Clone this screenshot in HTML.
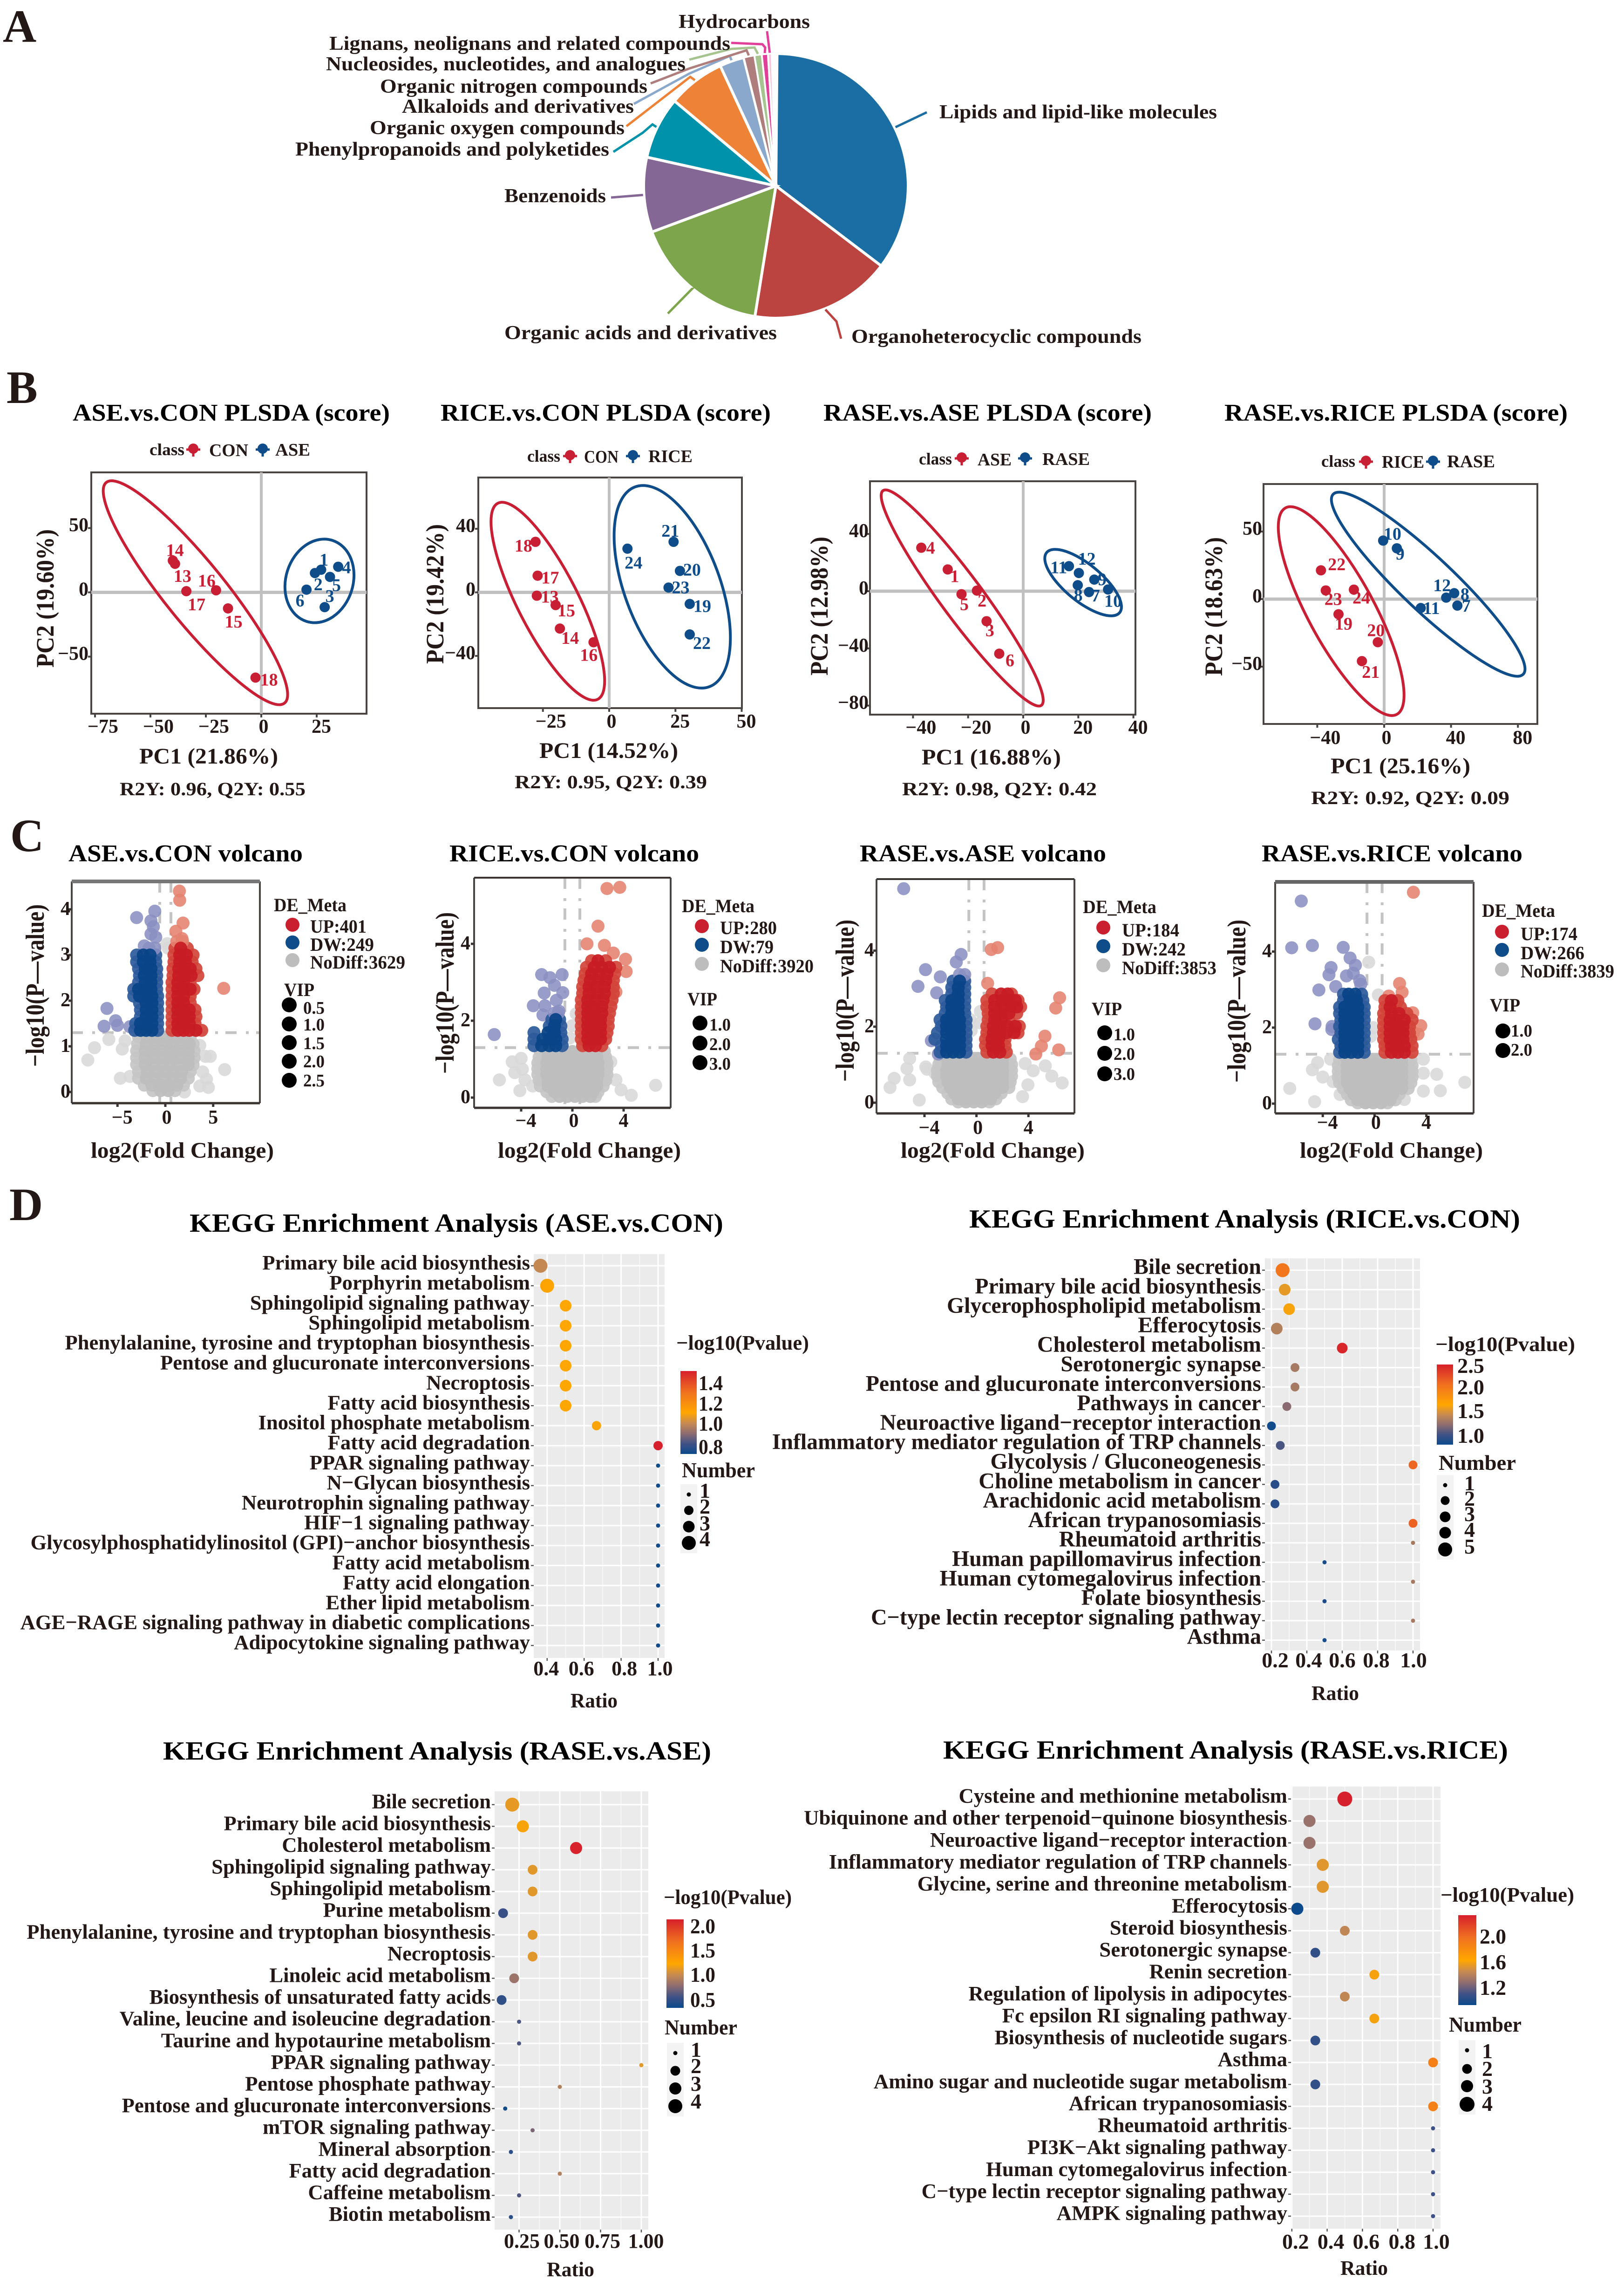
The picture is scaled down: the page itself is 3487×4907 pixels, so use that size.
<!DOCTYPE html>
<html lang="en">
<head>
<meta charset="utf-8">
<title>Metabolomics figure: classification, PLS-DA, volcano and KEGG enrichment</title>
<style>
html,body{margin:0;padding:0;background:#fff}
svg{display:block}
text{font-family:"Liberation Serif","Times New Roman",serif;font-weight:700;fill:#231815}
</style>
</head>
<body>
<svg id="figure" xmlns="http://www.w3.org/2000/svg" width="3487" height="4907" viewBox="0 0 3487 4907">
<defs>
<linearGradient id="cbar" x1="0" y1="1" x2="0" y2="0">
<stop offset="0" stop-color="#0c4a8b"/><stop offset="0.12" stop-color="#3d5186"/><stop offset="0.25" stop-color="#8f6d70"/><stop offset="0.37" stop-color="#c68a52"/><stop offset="0.5" stop-color="#ffa700"/><stop offset="0.75" stop-color="#f07020"/><stop offset="1" stop-color="#d6202b"/>
</linearGradient>
</defs>
</svg>
<script>
/* ---------- panel A data ---------- */
const pieLabels=["Lipids and lipid-like molecules","Organoheterocyclic compounds","Organic acids and derivatives","Benzenoids","Phenylpropanoids and polyketides","Organic oxygen compounds","Alkaloids and derivatives","Organic nitrogen compounds","Nucleosides, nucleotides, and analogues","Lignans, neolignans and related compounds","Hydrocarbons"];
const pieValues=[35.2,17.2,16.8,9.15,7.6,7,3,1.3,0.9,0.75,0.45];

/* ---------- panel B data: sample id, PC1, PC2 ---------- */
const s1RedIds=[14,13,17,16,15,18];
const s1RedPc1=[-39.9,-38.9,-33.8,-20.4,-15,-2.6];
const s1RedPc2=[24.7,22.2,0.9,1.6,-12.5,-66.3];
const s1BlueIds=[1,2,4,5,6,3];
const s1BluePc1=[27,24.2,34.7,31,20.4,28.6];
const s1BluePc2=[17.6,15,19.9,12,2.1,-11.5];
const s2RedIds=[18,17,13,15,14,16];
const s2RedPc1=[-27.8,-27,-27.3,-20.2,-18.6,-5.9];
const s2RedPc2=[31.8,10.5,-2.1,-8,-22.8,-31.4];
const s2BlueIds=[24,21,20,23,19,22];
const s2BluePc1=[6.9,24.3,26.7,22.4,30.4,30.4];
const s2BluePc2=[27.5,31.8,13.5,3,-7.3,-26.5];
const s3RedIds=[4,1,2,5,3,6];
const s3RedPc1=[-37,-27.4,-16.8,-22.4,-13.3,-8.7];
const s3RedPc2=[30.4,15.2,0.4,-2.1,-21,-43.7];
const s3BlueIds=[11,12,9,8,7,10];
const s3BluePc1=[16.6,20.2,25.8,19.8,23.9,30.8];
const s3BluePc2=[17.5,12.7,8.1,4.2,-0.6,1.2];
const s4RedIds=[22,23,24,19,20,21];
const s4RedPc1=[-37.8,-34.9,-18.1,-27.3,-3.8,-13.3];
const s4RedPc2=[21.3,6.4,7,-11.2,-31.9,-45.9];
const s4BlueIds=[10,9,12,8,7,11];
const s4BluePc1=[-0.6,7.6,37.1,41.9,43.8,21.9];
const s4BluePc2=[43.3,37.6,1.1,4.4,-4.8,-6.6];
/* confidence ellipses: tip1 PC1, tip1 PC2, tip2 PC1, tip2 PC2, minor/major ratio */
const s1Ellipses=[[-69.9,85.5,10.5,-86.1,0.214],[32.1,40.4,20.4,-22.6,0.79]];
const s2Ellipses=[[-42,56.1,-4.3,-67.3,0.276],[9.8,66.4,37.8,-59.4,0.448]];
const s3Ellipses=[[-50.9,70.3,6.6,-79.8,0.158],[8.5,27,35,-15,0.39]];
const s4Ellipses=[[-59,67.5,7.6,-85.3,0.283],[-30.5,77.6,83.2,-55.6,0.203]];

/* ---------- panel C data: each row = [-log10(P), log2FC, log2FC, ...] ---------- */
const v1Up=[[4.4,1.47],[4.2,1.5],[3.7,1.85],[2.27,6.1],[3.52,1.1],[3.36,1.74],[1.35,.7,1.3,1.9,2.5,3.2,3.8],[1.5,.7,1.3,1.9,2.5,3.1],[1.65,.7,1.3,1.9,2.5,3.2],[1.8,.7,1.3,1.9,2.5,3.1],[1.95,.7,1.3,1.9,2.6],[2.1,.7,1.3,1.9,2.6],[2.25,.7,1.3,1.9,2.6,3],[2.4,.7,1.3,1.9,2.6],[2.55,.8,1.4,2,2.7,3.4],[2.7,.8,1.4,2,2.6,3.2],[2.85,.9,1.5,2.1,2.8],[3,.9,1.5,2.2,2.9],[3.15,1,1.6,2.3],[3.3,1.2,1.8]];
const v1Down=[[3.96,-1.1],[3.82,-3],[3.75,-1.5],[3.62,-1.25],[3.46,-1.5],[3.39,-1],[3.2,-2.2],[1.83,-6.1],[1.56,-5.2],[1.44,-6.4],[1.46,-5],[1.43,-3.7],[1.35,-.8,-1.4,-2,-2.6,-3.2],[1.5,-.8,-1.4,-2,-2.6,-3.1],[1.65,-.8,-1.4,-2,-2.6],[1.8,-.8,-1.4,-2,-2.6],[1.95,-.8,-1.4,-2,-2.7],[2.1,-.8,-1.4,-2,-2.7,-3.3],[2.25,-.9,-1.5,-2.1,-2.8,-3.3],[2.4,-.9,-1.5,-2.1,-2.8],[2.55,-.9,-1.5,-2.2,-2.7],[2.7,-.9,-1.5,-2.1,-2.8],[2.85,-1,-1.6,-2.3,-3],[3,-1,-1.6,-2.3,-3],[3.15,-1.1,-1.7]];
const v1None=[[1.15,-5.9],[1.12,-4.2],[.97,-7.4],[.7,-8.1],[.94,-4.5],[.3,-4.7],[.34,-3.7],[1.02,3.6],[.78,4.7],[.78,4.2],[.49,6.2],[.44,3.9],[.28,4.3],[.13,3.6],[.1,4.5],[0,2],[3.25,.2],[3.15,.3],[1.2,-2.8,-1.9,-1,-.1,.8,1.7,2.6],[1.05,-2.9,-2,-1.1,-.2,.7,1.6,2.5,2.9],[.9,-3,-2.1,-1.2,-.3,.6,1.5,2.4,3],[.75,-3,-2.1,-1.2,-.3,.6,1.5,2.4,3],[.6,-3,-2.1,-1.2,-.3,.6,1.5,2.4,2.9],[.45,-2.8,-1.9,-1,-.1,.8,1.7,2.6],[.3,-2.8,-2,-1.1,-.2,.7,1.6,2.4],[.15,-2.2,-1.4,-.5,.4,1.2,1.9],[.03,-1.3,-.5,.3,1]];
const v2Up=[[5.44,2.7],[5.47,3.7],[4.46,2],[4,1.14],[3.96,2.5],[3.76,3.2],[3.6,4.15],[3.28,4.2],[2.75,3.4],[1.35,.8,1.3,1.8,2.3],[1.52,.7,1.2,1.7,2.2,2.6],[1.69,.7,1.2,1.7,2.2,2.7],[1.86,.7,1.2,1.7,2.2,2.8],[2.03,.7,1.2,1.7,2.2,2.8],[2.2,.7,1.2,1.7,2.3,2.9],[2.37,.7,1.2,1.7,2.3,3],[2.54,.7,1.2,1.8,2.4,3.1],[2.71,.8,1.3,1.9,2.5,3.2],[2.88,.8,1.3,1.9,2.5,3.2],[3.05,.9,1.4,2,2.6,3.2],[3.22,1,1.5,2.1,2.7,3.3],[3.39,1.1,1.7,2.3,2.9,3.4],[3.56,1.5,2,2.6]];
const v2Down=[[1.64,-6.1],[3.2,-2.4],[3.2,-.8],[3.12,-1.75],[2.92,-1.4],[2.72,-2.2],[2.73,-.75],[2.53,-1.25],[2.39,-3.05],[2.39,-2.15],[2.15,-2.3],[2.25,-1.05],[1.35,-.8,-1.3,-1.8,-2.4,-3],[1.52,-.8,-1.3,-1.8,-2.3,-3],[1.69,-.9,-1.4,-1.9,-3],[1.86,-.9,-1.4,-1.8],[2.03,-1,-1.3,-1.6],[2.2,-1.1,-1.4]];
const v2None=[[.93,-4.7],[1.02,-4],[.74,-3.9],[.65,-4.5],[.46,-5.7],[.46,-3.7],[.3,-3.1],[.18,-4.1],[.93,3],[.46,3.4],[.46,2.6],[.2,3.8],[.06,4.6],[.32,6.5],[2.18,.3],[1.87,0],[1.55,-.2],[1.2,-2.5,-1.9,-1.25,-.6,0,.6,1.25,1.9,2.5],[1.05,-2.6,-1.9,-1.25,-.6,0,.6,1.25,1.9,2.6],[.9,-2.7,-2,-1.3,-.6,0,.6,1.3,2,2.7],[.75,-2.7,-2,-1.3,-.6,0,.6,1.3,2,2.7],[.6,-2.7,-2,-1.3,-.6,0,.6,1.3,2,2.7],[.45,-2.6,-1.9,-1.25,-.6,0,.6,1.25,1.9,2.6],[.3,-2.5,-1.9,-1.25,-.6,0,.6,1.25,1.9,2.4],[.15,-2,-1.4,-.8,-.2,.4,1,1.6,2],[.03,-1.6,-1,-.4,.2,.8,1.4,1.8]];
const v3Up=[[4.08,1.63],[4.03,1.14],[3.14,.86],[2.76,6.4],[2.49,6.1],[1.75,5.27],[1.49,5],[1.39,6.33],[1.28,4.57],[1.33,.8,1.3,1.8,2.3],[1.5,.7,1.2,1.7,2.2],[1.67,.7,1.2,1.7,2.2],[1.84,.8,1.3,1.8,2.3,2.9,3.2],[2.01,.8,1.3,1.8,2.4,3,3.3],[2.18,.9,1.4,1.9,2.5],[2.35,.9,1.4,1.9,2.5,3.1],[2.52,.8,1.4,2,2.6,3.1,3.4],[2.69,.8,1.4,2,2.5,3,3.2],[2.86,1.2,1.9,2.4,2.7]];
const v3Down=[[5.63,-5.6],[3.9,-1.18],[3.7,-1.55],[3.5,-3.92],[3.31,-2.78],[3.06,-4.5],[2.89,-3.06],[1.63,-3.47],[1.28,-2.94],[1.33,-.8,-1.3,-1.8,-2.3,-2.8],[1.5,-.8,-1.3,-1.8,-2.3,-2.7],[1.67,-.8,-1.3,-1.8,-2.3,-3.2],[1.84,-.8,-1.3,-1.8,-2.3,-3],[2.01,-.8,-1.3,-1.8,-2.3,-2.7],[2.18,-.8,-1.3,-1.8,-2.3,-2.8],[2.35,-.9,-1.4,-1.9,-2.4],[2.52,-.9,-1.4,-1.9,-2.3],[2.69,-.9,-1.4,-1.9,-2.4],[2.86,-.9,-1.4,-1.9],[3.03,-.9,-1.4,-1.9],[3.2,-.9,-1.3,-1.8],[3.37,-.9,-1.3]];
const v3None=[[1.16,-5.14],[.9,-5.35],[.64,-6.33],[.6,-5.14],[.4,-6.65],[.07,-4.4],[.94,-3.9],[.88,-3.8],[1.03,3.75],[.84,4.37],[.97,5.3],[.7,5.8],[.52,6.6],[.47,3.96],[.16,3.55],[.78,-3.2],[2.19,-.5],[1.9,-.4],[2.4,.3],[2.1,.3],[1.15,-2.8,-2.2,-1.6,-1,-.4,.2,.8,1.4,2,2.6],[1,-2.9,-2.2,-1.6,-1,-.4,.2,.8,1.4,2,2.7],[.85,-3,-2.3,-1.6,-1,-.4,.2,.8,1.4,2,2.7],[.7,-3,-2.3,-1.6,-1,-.4,.2,.8,1.4,2,2.7],[.55,-2.9,-2.2,-1.6,-1,-.4,.2,.8,1.4,2,2.6],[.4,-2.6,-2,-1.5,-1,-.4,.2,.8,1.4,2,2.5],[.25,-2.2,-1.7,-1.2,-.7,-.2,.3,.8,1.4,1.9],[.1,-1.9,-1.4,-.9,-.4,.1,.6,1.1,1.5],[.02,-1.4,-.8,-.2,.4,1]];
const v4Up=[[5.56,3],[3.16,1.93],[2.93,2.13],[2.83,1.1],[2.39,2.95],[2.05,3.57],[1.83,3.36],[1.86,3],[2.64,1.7],[1.35,.8,1.3,1.8,2.3,2.9],[1.52,.8,1.3,1.8,2.3,2.9],[1.69,.7,1.2,1.7,2.2,2.8],[1.86,.7,1.2,1.7,2.2,2.7],[2.03,.7,1.2,1.7,2.2,2.7],[2.2,.7,1.2,1.7,2.3,2.9],[2.37,.7,1.3,1.9,2.5],[2.54,.8,1.2,2],[2.71,.8,1.3,1.8]];
const v4Down=[[5.33,-5.66],[4.1,-6.4],[4.16,-4.8],[4.11,-2.42],[3.83,-1.89],[3.64,-1.48],[3.58,-3.36],[3.39,-3.52],[3.43,-1.64],[3.36,-2.17],[3.24,-1.15],[3.14,-1.07],[2.99,-4.3],[3.08,-3],[2.1,-4.6],[2.03,-3.28],[1.95,-3.3],[1.35,-.8,-1.3,-1.8,-2.3,-2.7],[1.52,-.8,-1.3,-1.8,-2.3,-2.6],[1.69,-.8,-1.3,-1.8,-2.3,-2.8],[1.86,-.8,-1.3,-1.8,-2.3,-2.6],[2.03,-.8,-1.3,-1.8,-2.3,-2.7],[2.2,-.8,-1.3,-1.8,-2.3,-2.6],[2.37,-.8,-1.3,-1.8,-2.3,-2.7],[2.54,-.8,-1.3,-1.8,-2.3,-2.7],[2.71,-.9,-1.4,-1.9,-2.4],[2.88,-1,-1.5,-2,-2.4]];
const v4None=[[1.17,-3.4],[1.08,-4.4],[.89,-4.8],[.7,-4],[.58,-3.2],[.4,-6.55],[.05,-4.63],[1.17,3.77],[.8,3.77],[.33,3.77],[.77,4.8],[.34,5.08],[.56,6.97],[3.72,-.45],[2.86,.29],[2,-.1],[1.77,-.3],[.24,-2.66],[.11,2.3],[1.15,-2.7,-2.1,-1.5,-.9,-.3,.3,.9,1.5,2.1,2.8],[1,-2.8,-2.1,-1.5,-.9,-.3,.3,.9,1.5,2.1,2.9],[.85,-2.8,-2.1,-1.5,-.9,-.3,.3,.9,1.5,2.1,2.9],[.7,-2.8,-2.1,-1.5,-.9,-.3,.3,.9,1.5,2.1,2.9],[.55,-2.7,-2.1,-1.5,-.9,-.3,.3,.9,1.5,2.1,2.8],[.4,-2.4,-1.9,-1.4,-.9,-.3,.3,.9,1.5,2.1,2.6],[.25,-2.1,-1.6,-1.1,-.6,-.1,.4,.9,1.4,1.9],[.1,-1.8,-1.3,-.8,-.3,.2,.7,1.2,1.6],[.02,-1.3,-.7,-.1,.5,1]];

/* ---------- panel D data ---------- */
const k1Labels=["Primary bile acid biosynthesis","Porphyrin metabolism","Sphingolipid signaling pathway","Sphingolipid metabolism","Phenylalanine, tyrosine and tryptophan biosynthesis","Pentose and glucuronate interconversions","Necroptosis","Fatty acid biosynthesis","Inositol phosphate metabolism","Fatty acid degradation","PPAR signaling pathway","N\u2212Glycan biosynthesis","Neurotrophin signaling pathway","HIF\u22121 signaling pathway","Glycosylphosphatidylinositol (GPI)\u2212anchor biosynthesis","Fatty acid metabolism","Fatty acid elongation","Ether lipid metabolism","AGE\u2212RAGE signaling pathway in diabetic complications","Adipocytokine signaling pathway"];
const k1Ratio=[.364,.4,.5,.5,.5,.5,.5,.5,.667,1,1,1,1,1,1,1,1,1,1,1];
const k1Number=[4,4,3,3,3,3,3,3,2,2,1,1,1,1,1,1,1,1,1,1];
const k1Pvalue=[1.03,1.14,1.13,1.13,1.13,1.13,1.13,1.13,1.12,1.5,.77,.77,.77,.77,.77,.77,.77,.77,.77,.77];
const k1Ticks=[.4,.6,.8,1];
const k1TickLabels=["0.4","0.6","0.8","1.0"];
const k1ColorTicks=["1.4","1.2","1.0","0.8"];
const k1NumberKeys=[1,2,3,4];

const k2Labels=["Bile secretion","Primary bile acid biosynthesis","Glycerophospholipid metabolism","Efferocytosis","Cholesterol metabolism","Serotonergic synapse","Pentose and glucuronate interconversions","Pathways in cancer","Neuroactive ligand\u2212receptor interaction","Inflammatory mediator regulation of TRP channels","Glycolysis / Gluconeogenesis","Choline metabolism in cancer","Arachidonic acid metabolism","African trypanosomiasis","Rheumatoid arthritis","Human papillomavirus infection","Human cytomegalovirus infection","Folate biosynthesis","C\u2212type lectin receptor signaling pathway","Asthma"];
const k2Ratio=[.263,.275,.3,.23,.6,.333,.333,.287,.2,.25,1,.22,.22,1,1,.5,1,.5,1,.5];
const k2Number=[5,4,4,4,3,2,2,2,2,2,2,2,2,2,1,1,1,1,1,1];
const k2Pvalue=[2.07,1.6,1.67,1.41,2.52,1.36,1.36,1.26,.87,1.09,2.18,.97,.97,2.2,1.36,.9,1.36,.92,1.36,.9];
const k2Ticks=[.2,.4,.6,.8,1];
const k2TickLabels=["0.2","0.4","0.6","0.8","1.0"];
const k2ColorTicks=["2.5","2.0","1.5","1.0"];
const k2NumberKeys=[1,2,3,4,5];

const k3Labels=["Bile secretion","Primary bile acid biosynthesis","Cholesterol metabolism","Sphingolipid signaling pathway","Sphingolipid metabolism","Purine metabolism","Phenylalanine, tyrosine and tryptophan biosynthesis","Necroptosis","Linoleic acid metabolism","Biosynthesis of unsaturated fatty acids","Valine, leucine and isoleucine degradation","Taurine and hypotaurine metabolism","PPAR signaling pathway","Pentose phosphate pathway","Pentose and glucuronate interconversions","mTOR signaling pathway","Mineral absorption","Fatty acid degradation","Caffeine metabolism","Biotin metabolism"];
const k3Ratio=[.208,.273,.6,.333,.333,.152,.333,.333,.22,.143,.25,.25,1,.5,.165,.333,.2,.5,.25,.2];
const k3Number=[4,3,3,2,2,2,2,2,2,2,1,1,1,1,1,1,1,1,1,1];
const k3Pvalue=[1.14,1.21,2.15,1.12,1.12,.53,1.12,1.12,.84,.49,.6,.6,1.12,.93,.36,.73,.46,.93,.6,.46];
const k3Ticks=[.25,.5,.75,1];
const k3TickLabels=["0.25","0.50","0.75","1.00"];
const k3ColorTicks=["2.0","1.5","1.0","0.5"];
const k3NumberKeys=[1,2,3,4];

const k4Labels=["Cysteine and methionine metabolism","Ubiquinone and other terpenoid\u2212quinone biosynthesis","Neuroactive ligand\u2212receptor interaction","Inflammatory mediator regulation of TRP channels","Glycine, serine and threonine metabolism","Efferocytosis","Steroid biosynthesis","Serotonergic synapse","Renin secretion","Regulation of lipolysis in adipocytes","Fc epsilon RI signaling pathway","Biosynthesis of nucleotide sugars","Asthma","Amino sugar and nucleotide sugar metabolism","African trypanosomiasis","Rheumatoid arthritis","PI3K\u2212Akt signaling pathway","Human cytomegalovirus infection","C\u2212type lectin receptor signaling pathway","AMPK signaling pathway"];
const k4Ratio=[.5,.3,.3,.375,.375,.231,.5,.333,.667,.5,.667,.333,1,.333,1,1,1,1,1,1];
const k4Number=[4,3,3,3,3,3,2,2,2,2,2,2,2,2,2,1,1,1,1,1];
const k4Pvalue=[2.33,1.31,1.31,1.53,1.53,.93,1.43,1.06,1.6,1.43,1.6,1.06,1.88,1.06,1.88,1.1,1.1,1.1,1.1,1.1];
const k4Ticks=[.2,.4,.6,.8,1];
const k4TickLabels=["0.2","0.4","0.6","0.8","1.0"];
const k4ColorTicks=["2.0","1.6","1.2"];
const k4NumberKeys=[1,2,3,4];

/* ---------- helpers ---------- */
const NS="http://www.w3.org/2000/svg";
const root=document.getElementById("figure");
const RED="#c91f35",BLUE="#0f4c8a";
function mk(tag,name,attrs,parent){
  const el=document.createElementNS(NS,tag);
  
  
  for(const k in attrs){el.setAttribute(k,attrs[k]);}
  (parent||root).appendChild(el);
  return el;
}
function group(name,parent){return mk('g',name,{},parent);}
function txt(name,str,x,y,size,parent,opt){
  opt=opt||{};
  const a={x:x,y:y,'font-size':size};
  if(opt.anchor)a['text-anchor']=opt.anchor;
  if(opt.x2!==undefined){a.textLength=opt.x2-x;a.lengthAdjust='spacingAndGlyphs';}
  if(opt.rot)a.transform='rotate(-90 '+x+' '+y+')';
  if(opt.len){a.textLength=opt.len;a.lengthAdjust='spacingAndGlyphs';}
  const el=mk('text',name,a,parent);
  if(opt.fill)el.style.fill=opt.fill;
  el.textContent=str;
  return el;
}
function slug(s){return String(s).toLowerCase().replace(/[^a-z0-9]+/g,'-').replace(/^-|-$/g,'');}
function line(name,x1,y1,x2,y2,color,w,parent,dash){
  const a={x1:x1,y1:y1,x2:x2,y2:y2,stroke:color,'stroke-width':w};
  if(dash)a['stroke-dasharray']=dash;
  return mk('line',name,a,parent);
}
function dot(name,x,y,r,color,parent,op){
  const a={cx:x,cy:y,r:r,fill:color};
  if(op!==undefined)a['fill-opacity']=op;
  return mk('circle',name,a,parent);
}

/* panel letters */
txt('panel-label-a','A',6,90,100,root);
txt('panel-label-b','B',14,865,100,root);
txt('panel-label-c','C',22,1827,100,root);
txt('panel-label-d','D',20,2619,100,root);

/* ---------- panel A ---------- */
(function(){
  const g=group('classification-pie');
  const cx=1666,cy=399,r=284;
  const colors=["#1b6ea3","#bb4340","#7da54b","#856796","#0092ab","#ee8338","#8aa7cc","#ae7d7c","#a6c48f","#e0409a","#f6c5de"];
  const pts=(deg,rad)=>[cx+rad*Math.sin(deg*Math.PI/180),cy-rad*Math.cos(deg*Math.PI/180)];
  const leaderWaypoints=[
    [[1990,241]],[[1796,690],[1806,727]],[[1486,620],[1434,673]],[[1312,424]],
    [[1401,267],[1380,285],[1317,326]],[[1482,165],[1345,271]],[[1567,120],[1480,158],[1361,223]],
    [[1603,108],[1480,147],[1397,179]],[[1620,102],[1570,105],[1480,128]],[[1643,102],[1637,95],[1570,92]],[[1647,67]]];
  const lineColors=["#1b6ea3","#bb4340","#7da54b","#856796","#0092ab","#ee8338","#8aa7cc","#ae7d7c","#a6c48f","#e0409a","#e0409a"];
  let a=0.5;
  pieValues.forEach((v,i)=>{
    const a2=a+v*3.6,p1=pts(a,r),p2=pts(a2,r),mid=(a+a2)/2;
    mk('path','pie-slice-'+slug(pieLabels[i]),{d:'M'+cx+' '+cy+'L'+p1[0]+' '+p1[1]+'A'+r+' '+r+' 0 '+(v>50?1:0)+' 1 '+p2[0]+' '+p2[1]+'Z',fill:colors[i],stroke:'#fff','stroke-width':i>6?4:6},g);
    const start=pts(mid,r+2);
    const chain=[start].concat(leaderWaypoints[i]).map(p=>p.join(',')).join(' ');
    mk('polyline','pie-leader-'+slug(pieLabels[i]),{points:chain,fill:'none',stroke:lineColors[i],'stroke-width':5},g);
    a=a2;
  });
  const labelBoxes=[[2017,2613,254],[1828,2451,736],[1083,1668,728],[1083,1301,434],[634,1308,334],[794,1341,288],[863,1361,242],[816,1390,199],[700,1472,151],[707,1568,107],[1457,1739,60]];
  pieLabels.forEach((l,i)=>{
    const b=labelBoxes[i];
    txt('pie-label-'+slug(l),l,b[0],b[2],42,g,{x2:b[1]});
  });
})();

/* ---------- panel B ---------- */
function scorePlot(c){
  const g=group('plsda-'+c.key);
  const X=v=>c.x0+c.kx*v,Y=v=>c.y0-c.ky*v;
  txt('plsda-title',c.title,c.titleX[0],903,52,g,{x2:c.titleX[1],fill:'#000'});
  mk('rect','plot-frame',{x:c.rect[0],y:c.rect[1],width:c.rect[2]-c.rect[0],height:c.rect[3]-c.rect[1],fill:'#fff',stroke:'#4a4542','stroke-width':4},g);
  line('zero-line-vertical',X(0),c.rect[1],X(0),c.rect[3],'#c0c0c0',6,g);
  line('zero-line-horizontal',c.rect[0],Y(0),c.rect[2],Y(0),'#c0c0c0',7,g);
  c.xTicks.forEach(v=>{
    line('x-tick',X(v),c.rect[3],X(v),c.rect[3]+8,'#4a4542',4,g);
    const dx=v<0?17:(v===0?5:10);
    txt('x-tick-label',String(v).replace('-','\u2212'),X(v)+dx,c.xBase,42,g,{anchor:'middle'});
  });
  c.yTicks.forEach(v=>{
    line('y-tick',c.rect[0]-7,Y(v),c.rect[0],Y(v),'#4a4542',4,g);
    txt('y-tick-label',String(v).replace('-','\u2212'),c.yRight,Y(v)+7,42,g,{anchor:'end'});
  });
  txt('y-axis-title',c.yTitle,c.yt[0]-5,c.yt[2],54,g,{rot:true,len:c.yt[2]-c.yt[1]});
  txt('x-axis-title',c.xTitle,c.xt[0],c.xt[2],48,g,{x2:c.xt[1]});
  txt('model-quality',c.r2,c.q[0],c.q[2],40,g,{x2:c.q[1]});
  c.ell.forEach((e,i)=>{
    const x1=X(e[0]),y1=Y(e[1]),x2=X(e[2]),y2=Y(e[3]);
    const a=Math.hypot(x2-x1,y2-y1)/2,ang=Math.atan2(y2-y1,x2-x1)*180/Math.PI;
    const mx=(x1+x2)/2,my=(y1+y2)/2;
    mk('ellipse','confidence-ellipse-'+(i?'blue':'red'),{cx:mx,cy:my,rx:a,ry:a*e[4],transform:'rotate('+ang+' '+mx+' '+my+')',fill:'none',stroke:i?BLUE:RED,'stroke-width':6},g);
  });
  const drawSet=(ids,px,py,nudge,color)=>{
    ids.forEach((id,i)=>{
      dot('sample-point-'+id,X(px[i]),Y(py[i]),11,color,g);
      txt('sample-label-'+id,String(id),X(px[i])+nudge[i][0],Y(py[i])+nudge[i][1],38,g,{anchor:'middle',fill:color});
    });
  };
  drawSet(c.rIds,c.rX,c.rY,c.rN,RED);
  drawSet(c.bIds,c.bX,c.bY,c.bN,BLUE);
  const L=c.legend;
  txt('legend-title','class',L.c[0],L.base,36,g,{x2:L.c[1]});
  const glyph=(x,col)=>{
    line('legend-key-line',x-15,L.my,x+15,L.my,col,5,g);
    line('legend-key-stem',x,L.my,x,L.my+15,col,5,g);
    dot('legend-key-dot',x,L.my-2,11,col,g);
  };
  glyph(L.m1,RED);
  txt('legend-entry',L.n1,L.t1[0],L.base+2,38,g,{x2:L.t1[1]});
  glyph(L.m2,BLUE);
  txt('legend-entry',L.n2,L.t2[0],L.base+1,38,g,{x2:L.t2[1]});
}
scorePlot({key:'ase-vs-con',title:'ASE.vs.CON PLSDA (score)',titleX:[156,837],rect:[196,1014,787,1532],x0:561,kx:4.76,y0:1271.5,ky:2.76,xTicks:[-75,-50,-25,0,25],yTicks:[50,0,-50],xBase:1573,yRight:190,yTitle:'PC2 (19.60%)',yt:[120,1136,1433],xTitle:'PC1 (21.86%)',xt:[299,597,1639],r2:'R2Y: 0.96, Q2Y: 0.55',q:[257,656,1707],ell:s1Ellipses,rIds:s1RedIds,rX:s1RedPc1,rY:s1RedPc2,bIds:s1BlueIds,bX:s1BluePc1,bY:s1BluePc2,
 rN:[[4.5,-10],[16,39],[22,41],[-20,-8],[12,41],[29,17]],bN:[[6,-9],[7,37],[18,14],[14,30],[-14,36],[11,-11]],
 legend:{c:[321,396],base:977,my:965,m1:415,t1:[449,533],n1:'CON',m2:564,t2:[591,666],n2:'ASE'}});
scorePlot({key:'rice-vs-con',title:'RICE.vs.CON PLSDA (score)',titleX:[946,1655],rect:[1027,1025,1593,1520],x0:1308,kx:5.69,y0:1271.5,ky:3.41,xTicks:[-25,0,25,50],yTicks:[40,0,-40],xBase:1562,yRight:1021,yTitle:'PC2 (19.42%)',yt:[957,1125,1425],xTitle:'PC1 (14.52%)',xt:[1158,1456,1627],r2:'R2Y: 0.95, Q2Y: 0.39',q:[1105,1518,1692],ell:s2Ellipses,rIds:s2RedIds,rX:s2RedPc1,rY:s2RedPc2,bIds:s2BlueIds,bX:s2BluePc1,bY:s2BluePc2,
 rN:[[-26,21],[27,17],[28,15],[23,24],[22,33],[-10,40]],bN:[[13,43],[-7,-11],[26,10],[26,12],[27,17],[26,31]],
 legend:{c:[1132,1203],base:991,my:979,m1:1224,t1:[1254,1328],n1:'CON',m2:1359,t2:[1392,1487],n2:'RICE'}});
scorePlot({key:'rase-vs-ase',title:'RASE.vs.ASE PLSDA (score)',titleX:[1768,2473],rect:[1868,1033,2438,1534],x0:2197,kx:5.915,y0:1269,ky:3.07,xTicks:[-40,-20,0,20,40],yTicks:[40,0,-40,-80],xBase:1575,yRight:1865,yTitle:'PC2 (12.98%)',yt:[1782,1152,1450],xTitle:'PC1 (16.88%)',xt:[1979,2278,1641],r2:'R2Y: 0.98, Q2Y: 0.42',q:[1937,2355,1707],ell:s3Ellipses,rIds:s3RedIds,rX:s3RedPc1,rY:s3RedPc2,bIds:s3BlueIds,bX:s3BluePc1,bY:s3BluePc2,
 rN:[[20,13],[15,27],[11,34],[6,34],[7,32],[23,27]],bN:[[-22,15],[17,-18],[17,12],[1,34],[14,20],[11,37]],
 legend:{c:[1973,2044],base:997,my:984,m1:2065,t1:[2099,2172],n1:'ASE',m2:2201,t2:[2238,2340],n2:'RASE'}});
scorePlot({key:'rase-vs-rice',title:'RASE.vs.RICE PLSDA (score)',titleX:[2629,3366],rect:[2713,1039,3301,1554],x0:2972,kx:3.59,y0:1286,ky:2.9,xTicks:[-40,0,40,80],yTicks:[50,0,-50],xBase:1597,yRight:2710,yTitle:'PC2 (18.63%)',yt:[2629,1153,1451],xTitle:'PC1 (25.16%)',xt:[2857,3157,1660],r2:'R2Y: 0.92, Q2Y: 0.09',q:[2815,3241,1726],ell:s4Ellipses,rIds:s4RedIds,rX:s4RedPc1,rY:s4RedPc2,bIds:s4BlueIds,bX:s4BluePc1,bY:s4BluePc2,
 rN:[[34,0],[16,31],[16,30],[11,33],[-4,-13],[19,36]],bN:[[20,-2],[7,24],[-9,-14],[23,15],[19,13],[23,13]],
 legend:{c:[2837,2910],base:1002,my:991,m1:2933,t1:[2967,3058],n1:'RICE',m2:3077,t2:[3107,3210],n2:'RASE'}});

/* ---------- panel C ---------- */
function volcano(c){
  const g=group('volcano-'+c.key);
  const X=v=>c.x0+c.kx*v,Y=v=>c.y0-c.ky*v;
  txt('volcano-title',c.title,c.titleX[0],1849,52,g,{x2:c.titleX[1],fill:'#000'});
  mk('rect','plot-background',{x:c.rect[0],y:c.rect[1],width:c.rect[2]-c.rect[0],height:c.rect[3]-c.rect[1],fill:'#fff'},g);
  const dash='24 20 6 16';
  line('threshold-fc-down',X(-.585),c.rect[1],X(-.585),c.rect[3],'#c4c4c4',6,g,dash);
  line('threshold-fc-up',X(.585),c.rect[1],X(.585),c.rect[3],'#c4c4c4',6,g,dash);
  line('threshold-p',c.rect[0],Y(1.3),c.rect[2],Y(1.3),'#c4c4c4',6,g,dash);
  /* sparse rows are pale; the outer points of dense rows take a mid tone; inner points are saturated */
  const drawRows=(rows,pale,mid,solid,nm)=>{
    const sg=group('volcano-series-'+nm,g);
    rows.forEach(row=>{
      const y=row[0],xs=row.slice(1);
      xs.forEach((x,i)=>{
        if(xs.length<3)dot('metabolite-point-'+nm,X(x),Y(y),14,pale,sg,.88);
        else if(i===0||i===xs.length-1)dot('metabolite-point-'+nm,X(x),Y(y),14,mid,sg,.92);
      });
    });
    rows.forEach(row=>{
      const y=row[0],xs=row.slice(1);
      if(xs.length<3)return;
      xs.forEach((x,i)=>{
        if(i>0&&i<xs.length-1)dot('metabolite-point-'+nm,X(x),Y(y),14,solid,sg,.95);
      });
    });
  };
  drawRows(c.none,'#d8d8d8','#c6c6c6','#bebebe','nodiff');
  drawRows(c.down,'#8a90c2','#2c5a9a','#0a4588','down');
  drawRows(c.up,'#e5826f','#d2443a','#c81c25','up');
  line('frame-left',c.rect[0],c.rect[1],c.rect[0],c.rect[3],'#4a4542',4,g);
  line('frame-right',c.rect[2],c.rect[1],c.rect[2],c.rect[3],'#4a4542',4,g);
  line('frame-bottom',c.rect[0],c.rect[3],c.rect[2],c.rect[3],'#3a3532',5,g);
  line('frame-top',c.rect[0],c.rect[1],c.rect[2],c.rect[1],c.topC||'#3a3532',c.topW||4,g);
  c.xTicks.forEach(v=>{
    line('x-tick',X(v),c.rect[3],X(v),c.rect[3]+8,'#3a3532',5,g);
    const dx=v<0?10:(v===0?3:0);
    txt('x-tick-label',String(v).replace('-','\u2212'),X(v)+dx,c.xBase,42,g,{anchor:'middle'});
  });
  c.yTicks.forEach(v=>{
    line('y-tick',c.rect[0]-7,Y(v),c.rect[0],Y(v),'#3a3532',5,g);
    txt('y-tick-label',String(v),c.yRight,Y(v)+12,42,g,{anchor:'end'});
  });
  txt('y-axis-title','\u2212log10(P\u2014value)',c.yt[0]-6,c.yt[2],56,g,{rot:true,len:c.yt[2]-c.yt[1]});
  txt('x-axis-title','log2(Fold Change)',c.xt[0],2485,48,g,{x2:c.xt[1]});
  const L=c.legend;
  txt('legend-title-de-meta','DE_Meta',L.de[0],L.de[2],40,g,{x2:L.de[1]});
  L.cols.forEach((col,i)=>{
    dot('legend-key-'+i,L.dx,L.dy[i],15,col,g);
    txt('legend-entry',L.names[i],L.tx,L.tb[i],40,g,{x2:L.tr[i]});
  });
  txt('legend-title-vip','VIP',L.vip[0],L.vip[2],40,g,{x2:L.vip[1]});
  L.vipNames.forEach((n,i)=>{
    dot('vip-key-'+n,L.vx,L.vy[i],16,'#000',g);
    txt('vip-label-'+n,n,L.vt,L.vb[i],38,g,{x2:L.vt+46});
  });
}
volcano({key:'ase-vs-con',title:'ASE.vs.CON volcano',titleX:[147,650],rect:[154,1892,558,2368],x0:355,kx:20.55,y0:2344,ky:98,xTicks:[-5,0,5],yTicks:[0,1,2,3,4],xBase:2412,yRight:151,yt:[100,1941,2290],xt:[195,588],up:v1Up,down:v1Down,none:v1None,topC:'#777',topW:8,
 legend:{de:[588,744,1956],cols:['#c91f2e','#0f4c8a','#bdbdbd'],dx:628,dy:[1985,2023,2061],names:['UP:401','DW:249','NoDiff:3629'],tx:666,tb:[2002,2041,2079],tr:[787,803,870],vip:[610,675,2138],vipNames:['0.5','1.0','1.5','2.0','2.5'],vx:621,vy:[2157,2198,2238,2278,2319],vt:651,vb:[2176,2212,2252,2291,2332]}});
volcano({key:'rice-vs-con',title:'RICE.vs.CON volcano',titleX:[965,1501],rect:[1018,1884,1440,2378],x0:1229,kx:27.5,y0:2356,ky:82.5,xTicks:[-4,0,4],yTicks:[0,2,4],xBase:2419,yRight:1010,yt:[980,1958,2305],xt:[1069,1462],up:v2Up,down:v2Down,none:v2None,
 legend:{de:[1464,1620,1958],cols:['#c91f2e','#0f4c8a','#bdbdbd'],dx:1507,dy:[1988,2028,2069],names:['UP:280','DW:79','NoDiff:3920'],tx:1546,tb:[2005,2046,2087],tr:[1668,1661,1747],vip:[1476,1540,2158],vipNames:['1.0','2.0','3.0'],vx:1503,vy:[2196,2239,2281],vt:1523,vb:[2212,2254,2296]}});
volcano({key:'rase-vs-ase',title:'RASE.vs.ASE volcano',titleX:[1846,2375],rect:[1882,1887,2307,2390],x0:2096.6,kx:27.9,y0:2367,ky:81.6,xTicks:[-4,0,4],yTicks:[0,2,4],xBase:2434,yRight:1877,yt:[1839,1974,2322],xt:[1934,2329],up:v3Up,down:v3Down,none:v3None,
 legend:{de:[2325,2483,1960],cols:['#c91f2e','#0f4c8a','#bdbdbd'],dx:2369,dy:[1991,2031,2072],names:['UP:184','DW:242','NoDiff:3853'],tx:2409,tb:[2010,2051,2091],tr:[2532,2546,2612],vip:[2344,2409,2179],vipNames:['1.0','2.0','3.0'],vx:2372,vy:[2217,2261,2305],vt:2391,vb:[2233,2275,2318]}});
volcano({key:'rase-vs-rice',title:'RASE.vs.RICE volcano',titleX:[2709,3269],rect:[2738,1893,3164,2390],x0:2951.4,kx:27.8,y0:2369,ky:81.6,xTicks:[-4,0,4],yTicks:[0,2,4],xBase:2423,yRight:2731,yt:[2680,1974,2324],xt:[2791,3184],up:v4Up,down:v4Down,none:v4None,topC:'#666',topW:8,
 legend:{de:[3182,3339,1968],cols:['#c91f2e','#0f4c8a','#bdbdbd'],dx:3225,dy:[2000,2039,2081],names:['UP:174','DW:266','NoDiff:3839'],tx:3265,tb:[2018,2059,2098],tr:[3387,3402,3466],vip:[3199,3264,2171],vipNames:['1.0','2.0'],vx:3227,vy:[2213,2255],vt:3244,vb:[2225,2266]}});

/* ---------- panel D ---------- */
const gradStops=[[0,12,74,139],[.12,61,81,134],[.25,143,109,112],[.37,198,138,82],[.5,255,167,0],[.75,240,112,32],[1,214,32,43]];
function gradColor(f){
  f=Math.max(0,Math.min(1,f));
  let i=0;
  while(i<gradStops.length-2&&f>gradStops[i+1][0])i++;
  const a=gradStops[i],b=gradStops[i+1],t=(f-a[0])/(b[0]-a[0]);
  return 'rgb('+[1,2,3].map(k=>Math.round(a[k]+(b[k]-a[k])*t)).join(',')+')';
}
function kegg(c){
  const g=group('kegg-'+c.key);
  const X=v=>c.x1-c.kx*(1-v),Y=i=>c.yFirst+c.yStep*i;
  txt('kegg-title',c.title,c.titleX[0],c.titleY,56,g,{x2:c.titleX[1],fill:'#000'});
  mk('rect','panel-background',{x:c.rect[0],y:c.rect[1],width:c.rect[2]-c.rect[0],height:c.rect[3]-c.rect[1],fill:'#ebebeb'},g);
  c.minor.forEach(v=>line('grid-minor',X(v),c.rect[1],X(v),c.rect[3],'#f6f6f6',2,g));
  c.ticks.forEach(v=>line('grid-major-x',X(v),c.rect[1],X(v),c.rect[3],'#fff',3,g));
  c.labels.forEach((l,i)=>{
    line('grid-major-y',c.rect[0],Y(i),c.rect[2],Y(i),'#fff',3,g);
    line('y-tick',c.rect[0]-6,Y(i),c.rect[0],Y(i),'#555',2.5,g);
    txt('pathway-label-'+slug(l),l,c.rect[0]-8,Y(i)+8,c.size,g,{anchor:'end'});
  });
  c.labels.forEach((l,i)=>{
    const f=(c.pval[i]-c.domain[0])/(c.domain[1]-c.domain[0]);
    dot('enrichment-dot-'+slug(l),X(c.ratio[i]),Y(i),c.sizes[c.number[i]],gradColor(f),g);
  });
  c.ticks.forEach((v,i)=>{
    line('x-tick',X(v),c.rect[3],X(v),c.rect[3]+6,'#555',2.5,g);
    txt('x-tick-label',c.tickLabels[i],X(v)+c.nudge[i],c.xBase,c.tickSize,g,{anchor:'middle'});
  });
  txt('x-axis-title','Ratio',c.ratioT[0],c.ratioT[2],44,g,{x2:c.ratioT[1]});
  const L=c.legend;
  txt('legend-title-pvalue','\u2212log10(Pvalue)',L.t[0],L.t[2],44,g,{x2:L.t[1]});
  mk('rect','colorbar',{x:L.bar[0],y:L.bar[1],width:L.bar[2]-L.bar[0],height:L.bar[3]-L.bar[1],fill:'url(#cbar)'},g);
  c.colorTicks.forEach((s,i)=>txt('colorbar-label-'+s,s,L.cx,L.cb[i],46,g,{x2:L.cx+L.cw}));
  txt('legend-title-number','Number',L.n[0],L.n[2],46,g,{x2:L.n[1]});
  mk('rect','number-key-background',{x:L.kx-18,y:L.ky[0]-22,width:36,height:L.ky[L.ky.length-1]-L.ky[0]+44,fill:'#f3f3f3'},g);
  c.keys.forEach((k,i)=>{
    dot('number-key-'+k,L.kx,L.ky[i],c.sizes[k],'#000',g);
    txt('number-label-'+k,String(k),L.kt,L.kb[i],46,g);
  });
}
kegg({key:'ase-vs-con',title:'KEGG Enrichment Analysis (ASE.vs.CON)',titleX:[407,1553],titleY:2644,rect:[1146,2692,1427,3559],x1:1413,kx:397,yFirst:2717,yStep:42.9,labels:k1Labels,ratio:k1Ratio,number:k1Number,pval:k1Pvalue,domain:[.76,1.5],sizes:[0,4.5,10,12.5,15],size:44.7,ticks:k1Ticks,minor:[.5,.7,.9],tickLabels:k1TickLabels,nudge:[-2,-6,7,4],xBase:3596,tickSize:44,ratioT:[1225,1326,3665],colorTicks:k1ColorTicks,keys:k1NumberKeys,
 legend:{t:[1452,1737,2897],bar:[1461,2943,1496,3121],cx:1500,cw:52,cb:[2984,3028,3071,3121],n:[1464,1621,3171],kx:1479,ky:[3208,3242,3277,3312],kt:1502,kb:[3215,3249,3285,3319]}});
kegg({key:'rice-vs-con',title:'KEGG Enrichment Analysis (RICE.vs.CON)',titleX:[2081,3264],titleY:2635,rect:[2716,2701,3049,3543],x1:3034,kx:380,yFirst:2726.5,yStep:41.8,labels:k2Labels,ratio:k2Ratio,number:k2Number,pval:k2Pvalue,domain:[.85,2.55],sizes:[0,4.5,9.5,11.5,12.5,15],size:47.8,ticks:k2Ticks,minor:[.3,.5,.7,.9],tickLabels:k2TickLabels,nudge:[8,4,0,-3,1],xBase:3579,tickSize:46,ratioT:[2816,2918,3649],colorTicks:k2ColorTicks,keys:k2NumberKeys,
 legend:{t:[3082,3382,2900],bar:[3085,2929,3120,3101],cx:3129,cw:58,cb:[2947,2993,3044,3097],n:[3089,3255,3155],kx:3103,ky:[3188,3221,3256,3290,3326],kt:3144,kb:[3199,3232,3265,3299,3335]}});
kegg({key:'rase-vs-ase',title:'KEGG Enrichment Analysis (RASE.vs.ASE)',titleX:[350,1527],titleY:3777,rect:[1062,3845,1392,4786],x1:1377,kx:350,yFirst:3873.7,yStep:46.6,labels:k3Labels,ratio:k3Ratio,number:k3Number,pval:k3Pvalue,domain:[.33,2.16],sizes:[0,4.5,10.5,13,15],size:44.6,ticks:k3Ticks,minor:[.375,.625,.875],tickLabels:k3TickLabels,nudge:[6,4,4,10],xBase:4825,tickSize:44,ratioT:[1174,1276,4886],colorTicks:k3ColorTicks,keys:k3NumberKeys,
 legend:{t:[1425,1700,4087],bar:[1431,4120,1468,4310],cx:1482,cw:54,cb:[4150,4202,4254,4308],n:[1427,1583,4367],kx:1450,ky:[4407,4445,4483,4521],kt:1483,kb:[4415,4450,4488,4526]}});
kegg({key:'rase-vs-rice',title:'KEGG Enrichment Analysis (RASE.vs.RICE)',titleX:[2025,3238],titleY:3775,rect:[2772,3835,3093,4784],x1:3077,kx:379,yFirst:3861.6,yStep:47.13,labels:k4Labels,ratio:k4Ratio,number:k4Number,pval:k4Pvalue,domain:[.93,2.33],sizes:[0,4.5,10.5,13,16],size:44.8,ticks:k4Ticks,minor:[.3,.5,.7,.9],tickLabels:k4TickLabels,nudge:[8,8,8,9,7],xBase:4827,tickSize:46,ratioT:[2878,2980,4883],colorTicks:k4ColorTicks,keys:k4NumberKeys,
 legend:{t:[3093,3380,4082],bar:[3131,4111,3170,4304],cx:3177,cw:57,cb:[4172,4227,4282],n:[3111,3267,4361],kx:3150,ky:[4401,4441,4478,4517],kt:3182,kb:[4418,4456,4494,4531]}});
</script>
</body>
</html>
